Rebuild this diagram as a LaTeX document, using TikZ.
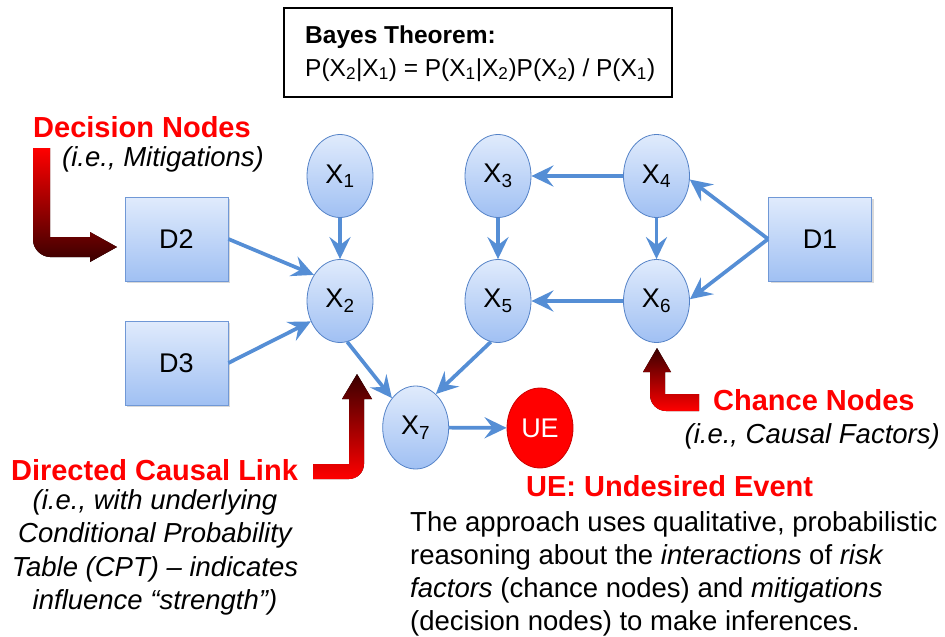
\documentclass[tikz,border=0pt]{standalone}
\usepackage{fontspec}
\setmainfont{Liberation Sans}
\usetikzlibrary{arrows.meta,shapes.geometric,shadows}
\definecolor{edgeblue}{RGB}{85,142,213}
\definecolor{nodetop}{RGB}{224,235,252}
\definecolor{nodebot}{RGB}{160,192,243}
\definecolor{nodeborder}{RGB}{84,130,199}
\definecolor{boxborder}{RGB}{112,152,214}
\definecolor{deepred}{RGB}{58,0,0}
\begin{document}
\begin{tikzpicture}[x=1pt,y=-1pt,
  chance/.style={ellipse, draw=nodeborder, line width=0.8pt, top color=nodetop, bottom color=nodebot,
    minimum width=66pt, minimum height=83pt, inner sep=0pt, font=\fontsize{27}{30}\selectfont},
  decision/.style={rectangle, draw=boxborder, line width=0.8pt, top color=nodetop, bottom color=nodebot,
    minimum width=103pt, minimum height=84pt, inner sep=0pt, font=\fontsize{27}{30}\selectfont,
    drop shadow={shadow xshift=2pt, shadow yshift=-2pt, opacity=0.3}},
  link/.style={draw=edgeblue, line width=3.7pt, -{Stealth[length=22pt,width=21pt,inset=8pt]}},
  lbl/.style={inner sep=0pt, font=\fontsize{29}{33}\selectfont\bfseries, text=red},
  note/.style={inner sep=0pt, font=\fontsize{27.5}{33.5}\selectfont\itshape},
  para/.style={inner sep=0pt, font=\fontsize{27.5}{33}\selectfont, align=left},
  bayesfont/.style={inner sep=0pt, font=\fontsize{24.5}{30}\selectfont}
]
\useasboundingbox (0,0) rectangle (945,637);

% Bayes box
\node[draw=black, line width=2.4pt, minimum width=388pt, minimum height=89pt, inner sep=0pt] (bayes) at (478,52.5) {};
\node[bayesfont, font=\fontsize{24.5}{30}\selectfont\bfseries, anchor=base west] (btitle) at (305,43) {Bayes Theorem:};
\node[bayesfont, anchor=base west] (bformula) at (305,76)
  {P(X\textsubscript{2}|X\textsubscript{1}) = P(X\textsubscript{1}|X\textsubscript{2})P(X\textsubscript{2}) / P(X\textsubscript{1})};

% nodes
\node[chance] (X1) at (340,176) {X\textsubscript{1}};
\node[chance] (X2) at (340,301) {X\textsubscript{2}};
\node[chance] (X3) at (498,176) {X\textsubscript{3}};
\node[chance] (X4) at (656.5,176) {X\textsubscript{4}};
\node[chance] (X5) at (498,301) {X\textsubscript{5}};
\node[chance] (X6) at (656.5,301) {X\textsubscript{6}};
\node[chance] (X7) at (415.7,427.5) {X\textsubscript{7}};
\node[ellipse, draw=red!80!black, line width=0.8pt, fill=red, minimum width=66pt, minimum height=80pt,
      inner sep=0pt, font=\fontsize{27}{30}\selectfont, text=white] (UE) at (540,428) {UE};
\node[decision] (D2) at (176.5,239) {D2};
\node[decision] (D3) at (176.5,363) {D3};
\node[decision] (D1) at (820,239) {D1};

% links
\draw[link] (X1) -- (X2);
\draw[link] (D2.east) -- (X2.135);
\draw[link] (D3.east) -- (X2.215);
\draw[link] (X2.-80) -- (X7.129);
\draw[link] (X5.-100) -- (X7.59);
\draw[link] (X7) -- (UE);
\draw[link] (X4) -- (X3);
\draw[link] (X3) -- (X5);
\draw[link] (X4) -- (X6);
\draw[link] (X6) -- (X5);
\draw[link] (D1.west) -- (X4.-6);
\draw[link] (D1.west) -- (X6.3);

% red bent arrows
\fill[top color=red, bottom color=deepred]
  (33,148) -- (50,148) -- (50,237) -- (90,237) -- (90,232) -- (117,247) -- (90,262) -- (90,257)
  -- (50,257) .. controls (41.2,257) and (33,248.8) .. (33,240) -- cycle;
\fill[top color=deepred, bottom color=red]
  (313,464) -- (349,464) -- (349,399) -- (342,399) -- (357,374) -- (372,399) -- (364,399)
  -- (364,464) .. controls (364,472.3) and (357.3,479) .. (349,479) -- (313,479) -- cycle;
\fill[top color=deepred, bottom color=red]
  (699,394) -- (665,394) -- (665,372) -- (671,372) -- (657,348) -- (643,372) -- (650,372)
  -- (650,395) .. controls (650,403.8) and (657.2,411) .. (666,411) -- (699,411) -- cycle;

% labels
\node[lbl, anchor=base west] (decl) at (33,137) {Decision Nodes};
\node[note, anchor=base west] (decn) at (62,166) {(i.e., Mitigations)};
\node[lbl, anchor=base west] (chl) at (713,410) {Chance Nodes};
\node[note, anchor=base east] (chn) at (940,443) {(i.e., Causal Factors)};
\node[lbl, anchor=base] (dcl) at (154.5,480) {Directed Causal Link};
\node[note, align=center, anchor=north] (dcn) at (155,489)
  {(i.e., with underlying\\Conditional Probability\\Table (CPT) – indicates\\influence “strength”)};
\node[lbl, anchor=base west] (uel) at (526,496) {UE: Undesired Event};
\node[para, anchor=north west] (desc) at (410,511)
  {The approach uses qualitative, probabilistic\\
   reasoning about the \textit{interactions} of \textit{risk}\\
   \textit{factors} (chance nodes) and \textit{mitigations}\\
   (decision nodes) to make inferences.};
\end{tikzpicture}
\end{document}
